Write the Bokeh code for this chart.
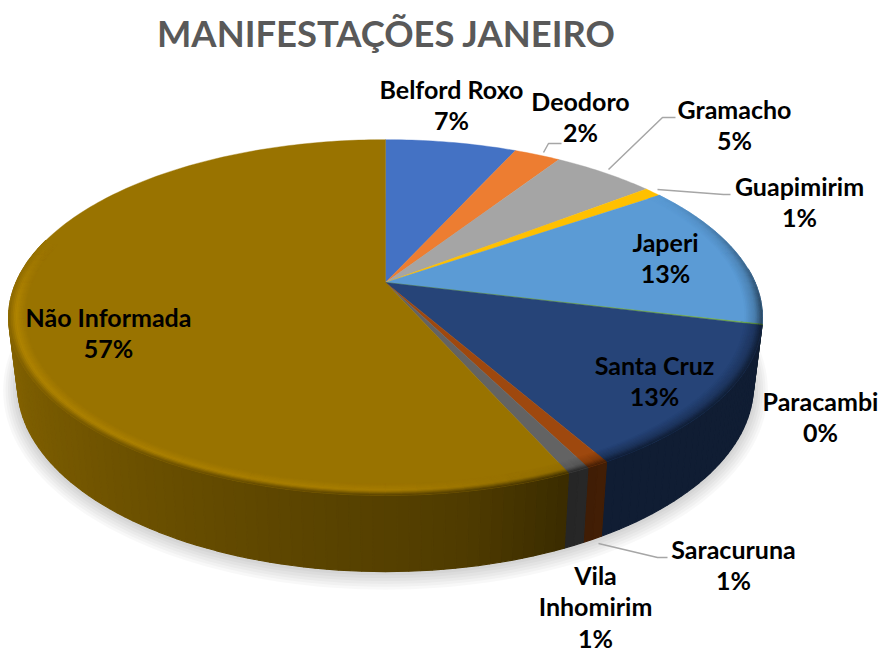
import math
import numpy as np
from bokeh.plotting import figure
from bokeh.models import Range1d, ColumnDataSource
from bokeh.core.properties import value
from bokeh.embed import file_html
from bokeh.resources import INLINE

# ---- data -----------------------------------------------------------------
title_text = "MANIFESTAÇÕES JANEIRO"
categories = ["Belford Roxo", "Deodoro", "Gramacho", "Guapimirim", "Japeri",
              "Paracambi", "Santa Cruz", "Saracuruna", "Vila Inhomirim", "Não Informada"]
shares = [6.8, 2.4, 5.3, 0.9, 13.3, 0.1, 12.9, 0.8, 0.8, 56.6]
colors = ["#4472C4", "#ED7D31", "#A5A5A5", "#FFC000", "#5B9BD5",
          "#70AD47", "#264478", "#9E480E", "#636363", "#997300"]

# ---- label layout ---------------------------------------------------------
label_lines = [["Belford Roxo"], ["Deodoro"], ["Gramacho"], ["Guapimirim"], ["Japeri"],
               ["Paracambi"], ["Santa Cruz"], ["Saracuruna"], ["Vila", "Inhomirim"], ["Não Informada"]]
label_pos = [(451, 88), (580, 100), (734, 108), (799, 185), (665, 241),
             (820, 400), (654, 364), (733, 548), (595, 574), (108, 316)]
label_step = 31.8
leaders_x = [[543, 548, 561], [608, 662, 675], [657, 723, 730], [598, 657, 667]]
leaders_y = [[152, 143, 143], [169, 117, 117], [189, 194, 194], [543, 557, 557]]

# ---- projection of the tilted disc (page pixel coordinates) ----------------
CX, K = 385.0, 0.197
TOP = dict(y0=282.0, R=369.5, S=171.0)
BOT = dict(y0=348.4, R=360.7, S=178.8)


def project(deg, r=1.0, g=TOP):
    a = np.radians(deg)
    u, v = r * np.sin(a), -r * np.cos(a)
    d = 1 - K * v
    return CX + g["R"] * u / d, g["y0"] + g["S"] * v / d


def arc(a, b, step=1.0):
    n = max(2, int(math.ceil((b - a) / step)) + 1)
    return np.linspace(a, b, n)


def shade(col, f):
    c = [int(col[i:i + 2], 16) for i in (1, 3, 5)]
    return "#%02x%02x%02x" % tuple(int(min(255, max(0, x * f))) for x in c)


side_a, side_f = [90, 105, 150, 156, 170, 195, 230, 265, 300], [.5, .43, .43, .38, .52, .62, .77, .9, .92]
rim_a, rim_h = [90, 150, 157, 180, 270], [.82, .75, .95, 1.1, 1.17]
wgt_a, wgt_w = [55, 95, 262, 285], [0, 1, 1, 0]

total = sum(shares)
edges = np.concatenate([[0], np.cumsum(shares) / total * 360])

p = figure(width=880, height=653, x_range=Range1d(0, 880), y_range=Range1d(653, 0),
           output_backend="svg", toolbar_location=None, min_border=0,
           outline_line_color=None, background_fill_color="white", border_fill_color="white")
p.axis.visible = False
p.grid.visible = False

# soft shadow under the disc
t = np.linspace(0, 2 * np.pi, 181)
for k in range(6, 0, -1):
    p.patch(385 + (368 + 2.4 * k) * np.cos(t), 386 + 2 * k / 3 + (186 + 2.2 * k) * np.sin(t),
            fill_color="#000000", fill_alpha=0.028, line_color=None)

# outer wall, back to front
quads = []
for i, col in enumerate(colors):
    angs = arc(edges[i], edges[i + 1], 1.5)
    for a, b in zip(angs[:-1], angs[1:]):
        m = (a + b) / 2
        if not 85 <= m <= 285:
            continue
        xa, ya = project(a)
        xb, yb = project(b)
        xc, yc = project(b, g=BOT)
        xd, yd = project(a, g=BOT)
        quads.append((np.cos(np.radians(m)) * -1, [xa, xb, xc, xd], [ya, yb, yc, yd],
                      shade(col, float(np.interp(m, side_a, side_f)))))
quads.sort(key=lambda q: q[0])
src = ColumnDataSource(dict(x=[q[1] for q in quads], y=[q[2] for q in quads], c=[q[3] for q in quads]))
p.patches("x", "y", source=src, fill_color="c", line_color="c", line_width=1.2)

# flat top slices
RIM = 0.955
xs, ys, cs = [], [], []
for i, col in enumerate(colors):
    angs = arc(edges[i], edges[i + 1], 1.0)
    x, y = project(angs)
    xs.append([CX] + list(x))
    ys.append([TOP["y0"]] + list(y))
    cs.append(col)
p.patches(xs, ys, fill_color=cs, line_color=cs, line_width=0.4)

# rounded rim
layers = np.linspace(0, 1, 11)
xs, ys, cs = [], [], []
for i, col in enumerate(colors):
    angs = arc(edges[i], edges[i + 1], 2.0)
    for a, b in zip(angs[:-1], angs[1:]):
        m = (a + b) / 2
        w = float(np.interp(m, wgt_a, wgt_w))
        if w == 0:
            continue
        H = float(np.interp(m, rim_a, rim_h))
        S = float(np.interp(m, side_a, side_f))
        for t0, t1 in zip(layers[:-1], layers[1:]):
            tm = (t0 + t1) / 2
            prof = 1 + (H - 1) * tm / .6 if tm < .6 else H + (S - H) * (tm - .6) / .4
            r0, r1 = RIM + (1 - RIM) * t0, RIM + (1 - RIM) * t1
            xa, ya = project(a, r0)
            xb, yb = project(b, r0)
            xc, yc = project(b, r1)
            xd, yd = project(a, r1)
            xs.append([xa, xb, xc, xd])
            ys.append([ya, yb, yc, yd])
            cs.append(shade(col, 1 + w * (prof - 1)))
p.patches(xs, ys, fill_color=cs, line_color=cs, line_width=0.5)

# leader lines
p.multi_line(leaders_x, leaders_y, line_color="#A6A6A6", line_width=1.5)

# labels
tx, ty, tt = [], [], []
for name, lines, pos, s in zip(categories, label_lines, label_pos, shares):
    for j, ln in enumerate(lines + [f"{round(s / total * 100)}%"]):
        tx.append(pos[0])
        ty.append(pos[1] + j * label_step)
        tt.append(ln)
p.text(tx, ty, text=tt, text_font=value("Lato"), text_font_style="bold", text_font_size="25px",
       text_color="#000000", text_align="center", text_baseline="middle")

p.text([386], [32], text=[title_text], text_font=value("Lato"), text_font_style="bold",
       text_font_size="36.4px", text_color="#595959", text_align="center", text_baseline="middle")

open("out.html", "w").write(file_html(p, INLINE))
